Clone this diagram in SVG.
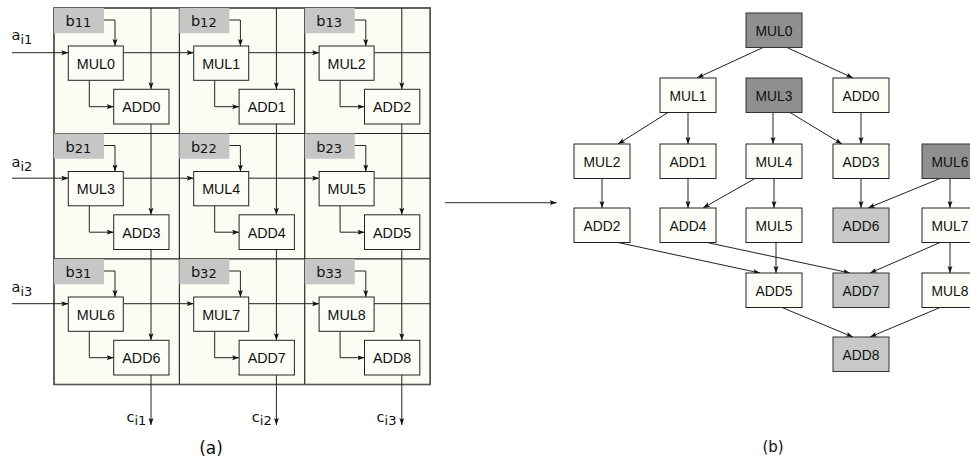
<svg xmlns="http://www.w3.org/2000/svg" width="970" height="459" viewBox="0 0 970 459">
<defs>
<marker id="ah" markerUnits="userSpaceOnUse" markerWidth="8" markerHeight="6" refX="7" refY="2.5" orient="auto">
<path d="M0,0 L7,2.5 L0,5 L1.5,2.5 z" fill="#111"/>
</marker>
</defs>
<style>
.cell{fill:#fcfcf5;stroke:#222;stroke-width:1}
.outer{fill:none;stroke:#555;stroke-width:1.6}
.bb{fill:#c6c6c6;stroke:none}
.nd{fill:#fdfdf7;stroke:#222;stroke-width:1}
.dk{fill:#8f8f8f;stroke:#333;stroke-width:1}
.lt{fill:#c8c8c8;stroke:#333;stroke-width:1}
.ln{fill:none;stroke:#222;stroke-width:1}
.ar{fill:none;stroke:#222;stroke-width:1;marker-end:url(#ah)}
.t{font-family:"Liberation Sans",Arial,sans-serif;font-size:14.3px;fill:#111;text-anchor:middle}
.tr{font-family:"Liberation Sans",Arial,sans-serif;font-size:13.8px;fill:#111;text-anchor:middle}
.s{font-family:"DejaVu Sans",sans-serif;font-size:14.5px;fill:#111}
.sub{font-size:13px}
.cap{font-family:"DejaVu Sans",sans-serif;fill:#111;text-anchor:middle}
</style>

<g id="grid">
<rect class="cell" x="54" y="8" width="125.4" height="125.5"/>
<rect class="cell" x="179.4" y="8" width="125.4" height="125.5"/>
<rect class="cell" x="304.8" y="8" width="125.4" height="125.5"/>
<rect class="cell" x="54" y="133.5" width="125.4" height="125.5"/>
<rect class="cell" x="179.4" y="133.5" width="125.4" height="125.5"/>
<rect class="cell" x="304.8" y="133.5" width="125.4" height="125.5"/>
<rect class="cell" x="54" y="259" width="125.4" height="125.5"/>
<rect class="cell" x="179.4" y="259" width="125.4" height="125.5"/>
<rect class="cell" x="304.8" y="259" width="125.4" height="125.5"/>
<rect class="outer" x="54" y="8" width="376.2" height="376.5"/>
</g>

<g id="b11"><rect class="bb" x="54" y="8" width="50" height="25.3"/><text class="s" x="65.5" y="26">b<tspan class="sub" dy="1.3">11</tspan></text></g>
<g id="b12"><rect class="bb" x="179.4" y="8" width="50" height="25.3"/><text class="s" x="190.9" y="26">b<tspan class="sub" dy="1.3">12</tspan></text></g>
<g id="b13"><rect class="bb" x="304.8" y="8" width="50" height="25.3"/><text class="s" x="316.3" y="26">b<tspan class="sub" dy="1.3">13</tspan></text></g>
<g id="b21"><rect class="bb" x="54" y="133.5" width="50" height="25.3"/><text class="s" x="65.5" y="151.5">b<tspan class="sub" dy="1.3">21</tspan></text></g>
<g id="b22"><rect class="bb" x="179.4" y="133.5" width="50" height="25.3"/><text class="s" x="190.9" y="151.5">b<tspan class="sub" dy="1.3">22</tspan></text></g>
<g id="b23"><rect class="bb" x="304.8" y="133.5" width="50" height="25.3"/><text class="s" x="316.3" y="151.5">b<tspan class="sub" dy="1.3">23</tspan></text></g>
<g id="b31"><rect class="bb" x="54" y="259" width="50" height="25.3"/><text class="s" x="65.5" y="277">b<tspan class="sub" dy="1.3">31</tspan></text></g>
<g id="b32"><rect class="bb" x="179.4" y="259" width="50" height="25.3"/><text class="s" x="190.9" y="277">b<tspan class="sub" dy="1.3">32</tspan></text></g>
<g id="b33"><rect class="bb" x="304.8" y="259" width="50" height="25.3"/><text class="s" x="316.3" y="277">b<tspan class="sub" dy="1.3">33</tspan></text></g>

<g id="grid-connectors">
<path class="ar" d="M104,20 H115 V46"/>
<path class="ar" d="M229.4,20 H240.4 V46"/>
<path class="ar" d="M354.8,20 H365.8 V46"/>
<path class="ar" d="M104,145.5 H115 V171.5"/>
<path class="ar" d="M229.4,145.5 H240.4 V171.5"/>
<path class="ar" d="M354.8,145.5 H365.8 V171.5"/>
<path class="ar" d="M104,271 H115 V297"/>
<path class="ar" d="M229.4,271 H240.4 V297"/>
<path class="ar" d="M354.8,271 H365.8 V297"/>

<path class="ar" d="M89.3,80.3 V106.7 H113.7"/>
<path class="ar" d="M214.7,80.3 V106.7 H239.1"/>
<path class="ar" d="M340.1,80.3 V106.7 H364.5"/>
<path class="ar" d="M89.3,205.8 V232.2 H113.7"/>
<path class="ar" d="M214.7,205.8 V232.2 H239.1"/>
<path class="ar" d="M340.1,205.8 V232.2 H364.5"/>
<path class="ar" d="M89.3,331.3 V357.7 H113.7"/>
<path class="ar" d="M214.7,331.3 V357.7 H239.1"/>
<path class="ar" d="M340.1,331.3 V357.7 H364.5"/>

<path class="ar" d="M12,52.7 H68.3"/>
<path class="ar" d="M123.3,52.7 H193.7"/>
<path class="ar" d="M248.7,52.7 H319.1"/>
<path class="ln" d="M374.1,52.7 H430.2"/>
<path class="ar" d="M12,178.2 H68.3"/>
<path class="ar" d="M123.3,178.2 H193.7"/>
<path class="ar" d="M248.7,178.2 H319.1"/>
<path class="ln" d="M374.1,178.2 H430.2"/>
<path class="ar" d="M12,303.7 H68.3"/>
<path class="ar" d="M123.3,303.7 H193.7"/>
<path class="ar" d="M248.7,303.7 H319.1"/>
<path class="ln" d="M374.1,303.7 H430.2"/>

<path class="ar" d="M151,8 V89.3"/>
<path class="ar" d="M151,124 V214.8"/>
<path class="ar" d="M151,249.5 V340.3"/>
<path class="ar" d="M151,375 V425"/>
<path class="ar" d="M276.4,8 V89.3"/>
<path class="ar" d="M276.4,124 V214.8"/>
<path class="ar" d="M276.4,249.5 V340.3"/>
<path class="ar" d="M276.4,375 V425"/>
<path class="ar" d="M401.8,8 V89.3"/>
<path class="ar" d="M401.8,124 V214.8"/>
<path class="ar" d="M401.8,249.5 V340.3"/>
<path class="ar" d="M401.8,375 V425"/>
</g>

<g id="inputs">
<text class="s" x="11.5" y="40" font-size="13.5">a<tspan class="sub" dy="4.3">i1</tspan></text>
<text class="s" x="11.5" y="167" font-size="13.5">a<tspan class="sub" dy="4.3">i2</tspan></text>
<text class="s" x="11.5" y="292" font-size="13.5">a<tspan class="sub" dy="4.3">i3</tspan></text>
<text class="s" x="126.5" y="421.7" font-size="13.5">c<tspan class="sub" dy="3.3">i1</tspan></text>
<text class="s" x="251.8" y="421.7" font-size="13.5">c<tspan class="sub" dy="3.3">i2</tspan></text>
<text class="s" x="376.6" y="421.7" font-size="13.5">c<tspan class="sub" dy="3.3">i3</tspan></text>
</g>

<g id="g-MUL0"><rect class="nd" x="68.3" y="46" width="55" height="34.3"/><text class="t" x="95.8" y="68.5">MUL0</text></g>
<g id="g-MUL1"><rect class="nd" x="193.7" y="46" width="55" height="34.3"/><text class="t" x="221.2" y="68.5">MUL1</text></g>
<g id="g-MUL2"><rect class="nd" x="319.1" y="46" width="55" height="34.3"/><text class="t" x="346.6" y="68.5">MUL2</text></g>
<g id="g-ADD0"><rect class="nd" x="113.7" y="89.3" width="55.3" height="34.7"/><text class="t" x="141.35" y="112">ADD0</text></g>
<g id="g-ADD1"><rect class="nd" x="239.1" y="89.3" width="55.3" height="34.7"/><text class="t" x="266.75" y="112">ADD1</text></g>
<g id="g-ADD2"><rect class="nd" x="364.5" y="89.3" width="55.3" height="34.7"/><text class="t" x="392.15" y="112">ADD2</text></g>
<g id="g-MUL3"><rect class="nd" x="68.3" y="171.5" width="55" height="34.3"/><text class="t" x="95.8" y="194">MUL3</text></g>
<g id="g-MUL4"><rect class="nd" x="193.7" y="171.5" width="55" height="34.3"/><text class="t" x="221.2" y="194">MUL4</text></g>
<g id="g-MUL5"><rect class="nd" x="319.1" y="171.5" width="55" height="34.3"/><text class="t" x="346.6" y="194">MUL5</text></g>
<g id="g-ADD3"><rect class="nd" x="113.7" y="214.8" width="55.3" height="34.7"/><text class="t" x="141.35" y="237.5">ADD3</text></g>
<g id="g-ADD4"><rect class="nd" x="239.1" y="214.8" width="55.3" height="34.7"/><text class="t" x="266.75" y="237.5">ADD4</text></g>
<g id="g-ADD5"><rect class="nd" x="364.5" y="214.8" width="55.3" height="34.7"/><text class="t" x="392.15" y="237.5">ADD5</text></g>
<g id="g-MUL6"><rect class="nd" x="68.3" y="297" width="55" height="34.3"/><text class="t" x="95.8" y="319.5">MUL6</text></g>
<g id="g-MUL7"><rect class="nd" x="193.7" y="297" width="55" height="34.3"/><text class="t" x="221.2" y="319.5">MUL7</text></g>
<g id="g-MUL8"><rect class="nd" x="319.1" y="297" width="55" height="34.3"/><text class="t" x="346.6" y="319.5">MUL8</text></g>
<g id="g-ADD6"><rect class="nd" x="113.7" y="340.3" width="55.3" height="34.7"/><text class="t" x="141.35" y="363">ADD6</text></g>
<g id="g-ADD7"><rect class="nd" x="239.1" y="340.3" width="55.3" height="34.7"/><text class="t" x="266.75" y="363">ADD7</text></g>
<g id="g-ADD8"><rect class="nd" x="364.5" y="340.3" width="55.3" height="34.7"/><text class="t" x="392.15" y="363">ADD8</text></g>

<g id="transform-arrow"><path d="M445,202.7 H556.7" fill="none" stroke="#555" stroke-width="1.2" marker-end="url(#ah)"/></g>

<g id="dag-connectors">
<path class="ar" d="M763,47.5 L697,78"/>
<path class="ar" d="M787,47.5 L853,78"/>
<path class="ar" d="M668,112.5 L618,144"/>
<path class="ar" d="M688,112.5 L688,144"/>
<path class="ar" d="M773,112.5 L773,144"/>
<path class="ar" d="M790,112.5 L842,144"/>
<path class="ar" d="M861,112.5 L861,144"/>
<path class="ar" d="M602,178.5 L602,208"/>
<path class="ar" d="M688,178.5 L688,208"/>
<path class="ar" d="M755,178.5 L703,208"/>
<path class="ar" d="M774,178.5 L774,208"/>
<path class="ar" d="M861,178.5 L861,208"/>
<path class="ar" d="M940,178.5 L868,208"/>
<path class="ar" d="M950,178.5 L950,208"/>
<path class="ar" d="M618,242.5 L760,273"/>
<path class="ar" d="M707,242.5 L850,273"/>
<path class="ar" d="M776,242.5 L776,273"/>
<path class="ar" d="M940,242.5 L870,273"/>
<path class="ar" d="M950,242.5 L950,273"/>
<path class="ar" d="M782,307.5 L853,337"/>
<path class="ar" d="M940,307.5 L870,337"/>
</g>

<g id="MUL0"><rect class="dk" x="746" y="13" width="56" height="34.5"/><text class="tr" x="774" y="35.5">MUL0</text></g>
<g id="MUL1"><rect class="nd" x="660" y="78" width="56" height="34.5"/><text class="tr" x="688" y="100.5">MUL1</text></g>
<g id="MUL3"><rect class="dk" x="746" y="78" width="56" height="34.5"/><text class="tr" x="774" y="100.5">MUL3</text></g>
<g id="ADD0"><rect class="nd" x="833" y="78" width="56" height="34.5"/><text class="tr" x="861" y="100.5">ADD0</text></g>
<g id="MUL2"><rect class="nd" x="574" y="144" width="56" height="34.5"/><text class="tr" x="602" y="166.5">MUL2</text></g>
<g id="ADD1"><rect class="nd" x="660" y="144" width="56" height="34.5"/><text class="tr" x="688" y="166.5">ADD1</text></g>
<g id="MUL4"><rect class="nd" x="746" y="144" width="56" height="34.5"/><text class="tr" x="774" y="166.5">MUL4</text></g>
<g id="ADD3"><rect class="nd" x="833" y="144" width="56" height="34.5"/><text class="tr" x="861" y="166.5">ADD3</text></g>
<g id="MUL6"><rect class="dk" x="922" y="144" width="56" height="34.5"/><text class="tr" x="950" y="166.5">MUL6</text></g>
<g id="ADD2"><rect class="nd" x="574" y="208" width="56" height="34.5"/><text class="tr" x="602" y="230.5">ADD2</text></g>
<g id="ADD4"><rect class="nd" x="660" y="208" width="56" height="34.5"/><text class="tr" x="688" y="230.5">ADD4</text></g>
<g id="MUL5"><rect class="nd" x="746" y="208" width="56" height="34.5"/><text class="tr" x="774" y="230.5">MUL5</text></g>
<g id="ADD6"><rect class="lt" x="833" y="208" width="56" height="34.5"/><text class="tr" x="861" y="230.5">ADD6</text></g>
<g id="MUL7"><rect class="nd" x="922" y="208" width="56" height="34.5"/><text class="tr" x="950" y="230.5">MUL7</text></g>
<g id="ADD5"><rect class="nd" x="746" y="273" width="56" height="34.5"/><text class="tr" x="774" y="295.5">ADD5</text></g>
<g id="ADD7"><rect class="lt" x="833" y="273" width="56" height="34.5"/><text class="tr" x="861" y="295.5">ADD7</text></g>
<g id="MUL8"><rect class="nd" x="922" y="273" width="56" height="34.5"/><text class="tr" x="950" y="295.5">MUL8</text></g>
<g id="ADD8"><rect class="lt" x="833" y="337" width="56" height="34.5"/><text class="tr" x="861" y="359.5">ADD8</text></g>

<g id="captions">
<text class="cap" x="211" y="454" font-size="17px">(a)</text>
<text class="cap" x="773" y="452" font-size="15px">(b)</text>
</g>
</svg>
